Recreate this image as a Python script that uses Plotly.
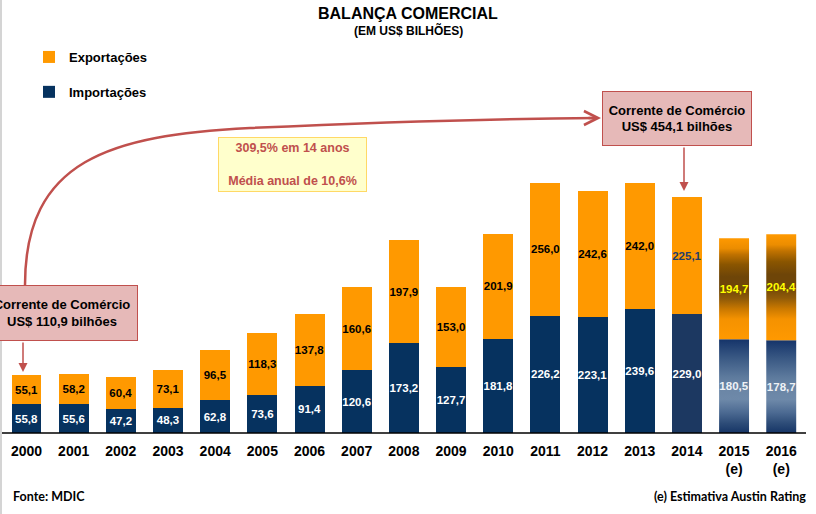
import plotly.graph_objects as go

# ---------------- data ----------------
years = ["2000", "2001", "2002", "2003", "2004", "2005", "2006", "2007", "2008",
         "2009", "2010", "2011", "2012", "2013", "2014", "2015", "2016"]
year_labels = years[:15] + ["2015<br>(e)", "2016<br>(e)"]
importacoes = [55.8, 55.6, 47.2, 48.3, 62.8, 73.6, 91.4, 120.6, 173.2,
               127.7, 181.8, 226.2, 223.1, 239.6, 229.0, 180.5, 178.7]
exportacoes = [55.1, 58.2, 60.4, 73.1, 96.5, 118.3, 137.8, 160.6, 197.9,
               153.0, 201.9, 256.0, 242.6, 242.0, 225.1, 194.7, 204.4]
estimated = [False] * 15 + [True, True]

# ---------------- styling ----------------
W, H = 816, 514
PLOT_BOTTOM = 433  # px of baseline
FONT = "Liberation Sans"
NAVY = "#06325f"
ORANGE = "#ff9900"
RED = "#c0504d"
BAR_W = 0.635

def fmt(v):
    return f"{v:.1f}".replace(".", ",")

def px(x):
    return x / W

def py(y):
    return (PLOT_BOTTOM - y) / PLOT_BOTTOM

idx = list(range(len(years)))

imp_colors = []
exp_colors = []
imp_text_colors = []
exp_text_colors = []
for i, e in enumerate(estimated):
    if e:
        imp_colors.append("rgba(0,0,0,0)")
        exp_colors.append("rgba(0,0,0,0)")
        imp_text_colors.append("#eef2f6")
        exp_text_colors.append("#ffff00")
    elif years[i] == "2014":
        imp_colors.append("#1c3861")
        exp_colors.append(ORANGE)
        imp_text_colors.append("#ffffff")
        exp_text_colors.append("#1f3d6b")
    else:
        imp_colors.append(NAVY)
        exp_colors.append(ORANGE)
        imp_text_colors.append("#ffffff")
        exp_text_colors.append("#000000")

fig = go.Figure()

# gradient fills for estimated years (drawn underneath transparent bars)
# colorscale position 0 = bottom of segment, 1 = top of segment
exp_scale = [[0, "#ff9900"], [0.2, "#f59200"], [0.3, "#c97800"], [0.4, "#8f5a08"],
             [0.5, "#6e4508"], [0.62, "#6e4508"], [0.74, "#8a5500"], [0.84, "#c07200"],
             [0.9, "#ec8d00"], [1, "#ff9900"]]
imp_scale = [[0, "#163566"], [0.1, "#2c4b77"], [0.22, "#4c6a92"], [0.36, "#6e89a9"],
             [0.5, "#6a85a5"], [0.6, "#5d7a9d"], [0.8, "#3a5984"], [1, "#15346a"]]
for i, e in enumerate(estimated):
    if not e:
        continue
    x0, x1 = i - BAR_W / 2, i + BAR_W / 2
    b0, b1 = 0, importacoes[i]
    fig.add_trace(go.Scatter(x=[x0, x1, x1, x0, x0], y=[b0, b0, b1, b1, b0],
                             mode="none", fill="toself",
                             fillgradient=dict(type="vertical", colorscale=imp_scale,
                                               start=b0, stop=b1),
                             showlegend=False, hoverinfo="skip", zorder=0))
    e0, e1 = importacoes[i], importacoes[i] + exportacoes[i]
    fig.add_trace(go.Scatter(x=[x0, x1, x1, x0, x0], y=[e0, e0, e1, e1, e0],
                             mode="none", fill="toself",
                             fillgradient=dict(type="vertical", colorscale=exp_scale,
                                               start=e0, stop=e1),
                             showlegend=False, hoverinfo="skip", zorder=0))

fig.add_trace(go.Bar(
    x=idx, y=importacoes, name="Importações", width=BAR_W,
    marker=dict(color=imp_colors, line=dict(width=0)),
    text=[fmt(v) for v in importacoes], textposition="inside",
    insidetextanchor="middle", textangle=0, constraintext="none",
    textfont=dict(family=FONT, size=11.5, weight="bold", color=imp_text_colors),
    legendgroup="imp", legendrank=2, zorder=1, hoverinfo="skip"))
fig.add_trace(go.Bar(
    x=idx, y=exportacoes, name="Exportações", width=BAR_W,
    marker=dict(color=exp_colors, line=dict(width=0)),
    text=[fmt(v) for v in exportacoes], textposition="inside",
    insidetextanchor="middle", textangle=0, constraintext="none",
    textfont=dict(family=FONT, size=11.5, weight="bold", color=exp_text_colors),
    legendgroup="exp", legendrank=1, zorder=1, hoverinfo="skip"))

# ---------------- decorations ----------------
shapes = []
# baseline
shapes.append(dict(type="line", xref="paper", yref="paper", x0=0, x1=px(806),
                   y0=0, y1=0, line=dict(color="#000000", width=1.5)))
# left border line of the picture
shapes.append(dict(type="line", xref="paper", yref="paper", x0=px(1), x1=px(1),
                   y0=py(0), y1=py(H), line=dict(color="#d4d4d4", width=2)))
# curved connector
pts = [(25, 285), (25, 160), (110, 135), (250, 128), (400, 121), (520, 118.5), (597, 118)]
path = "M{},{} C{},{} {},{} {},{} C{},{} {},{} {},{}".format(
    *[v for p in pts for v in (px(p[0]), py(p[1]))])
shapes.append(dict(type="path", xref="paper", yref="paper", path=path,
                   line=dict(color=RED, width=2.5)))

def ann(**kw):
    d = dict(xref="paper", yref="paper", xanchor="center", yanchor="middle",
             showarrow=False)
    d.update(kw)
    return d

annotations = []
annotations.append(ann(text="<b>BALANÇA COMERCIAL</b>", x=px(408), y=py(13),
                       font=dict(family=FONT, size=16, color="#000000")))
annotations.append(ann(text="<b>(EM US$ BILHÕES)</b>", x=px(408), y=py(31),
                       font=dict(family=FONT, size=12, color="#000000")))
# boxes
box_font = dict(family=FONT, size=13, color="#000000")
annotations.append(ann(text="<b>Corrente de Comércio<br>US$ 110,9 bilhões</b>",
                       x=px(62), y=py(313), width=150, height=54, borderpad=0,
                       bgcolor="#e6b9b8", bordercolor=RED, borderwidth=1,
                       font=box_font))
annotations.append(ann(text="<b>Corrente de Comércio<br>US$ 454,1 bilhões</b>",
                       x=px(677), y=py(118.5), width=148, height=53, borderpad=0,
                       bgcolor="#e6b9b8", bordercolor=RED, borderwidth=1,
                       font=box_font))
annotations.append(ann(text="<b>309,5% em 14 anos<br><br>Média anual de 10,6%</b>",
                       x=px(292.5), y=py(164.5), width=147, height=53, borderpad=0,
                       bgcolor="#ffffcc", bordercolor="#ffd966", borderwidth=1,
                       font=dict(family=FONT, size=12.5, color=RED)))
# arrows
annotations.append(ann(text="", x=px(23), y=py(372), ax=0, ay=-31, showarrow=True,
                       arrowhead=2, arrowsize=1.2, arrowwidth=1.5, arrowcolor=RED))
annotations.append(ann(text="", x=px(684), y=py(191), ax=0, ay=-45, showarrow=True,
                       arrowhead=2, arrowsize=1.2, arrowwidth=1.5, arrowcolor=RED))
annotations.append(ann(text="", x=px(601), y=py(118), ax=-14, ay=0, showarrow=True,
                       arrowhead=5, arrowsize=1.1, arrowwidth=2.5, arrowcolor=RED))
# footer
annotations.append(ann(text="<b>Fonte: MDIC</b>", x=px(11), y=py(497), xanchor="left",
                       font=dict(family="Lato", size=12.5, color="#000000")))
annotations.append(ann(text="<b>(e) Estimativa Austin Rating</b>", x=px(808), y=py(497),
                       xanchor="right",
                       font=dict(family="Lato", size=12.5, color="#000000")))

fig.update_layout(
    width=W, height=H,
    margin=dict(l=0, r=0, t=0, b=H - PLOT_BOTTOM, pad=0),
    paper_bgcolor="#ffffff", plot_bgcolor="#ffffff",
    barmode="stack", bargap=0.3,
    showlegend=True,
    legend=dict(x=px(29), y=py(42), xanchor="left", yanchor="top",
                bgcolor="rgba(0,0,0,0)", tracegroupgap=15,
                font=dict(family=FONT, size=13, color="#000000", weight="bold")),
    xaxis=dict(range=[-0.5618, 16.737], tickvals=idx, ticktext=year_labels,
               showgrid=False, zeroline=False, showline=False, ticks="",
               ticklabelstandoff=8,
               tickfont=dict(family=FONT, size=14, color="#000000", weight="bold"),
               fixedrange=True),
    yaxis=dict(range=[0, PLOT_BOTTOM / 0.519], visible=False, fixedrange=True),
    shapes=shapes, annotations=annotations,
)

fig.write_html("out.html", config={"displayModeBar": False},
               post_script="document.body.style.margin='0';")
